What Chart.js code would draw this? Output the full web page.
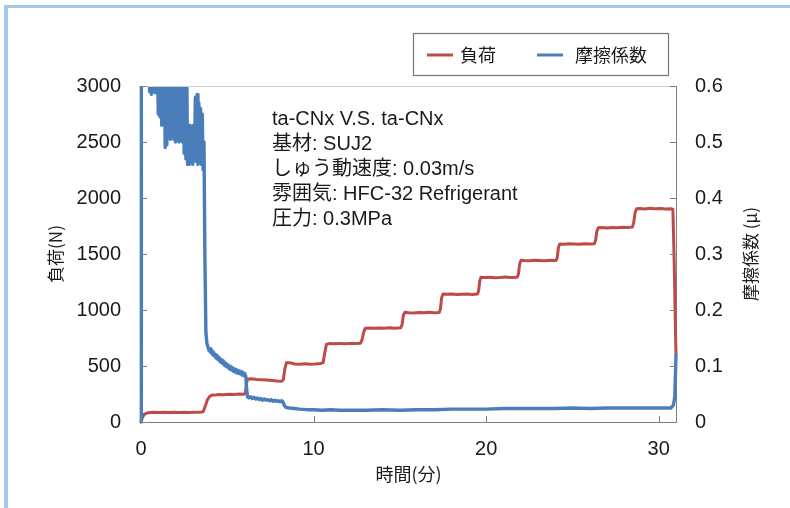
<!DOCTYPE html>
<html lang="ja">
<head>
<meta charset="utf-8">
<title>負荷・摩擦係数</title>
<script src="https://cdn.jsdelivr.net/npm/chart.js@4.4.1/dist/chart.umd.min.js"></script>
<style>
  html, body { margin: 0; padding: 0; background: #fff; }
  #wrap { position: relative; width: 790px; height: 508px; overflow: hidden; }
  #frame { position: absolute; left: 4px; top: 5px; width: 800px; height: 520px;
           border-top: 3px solid #a7c7e7; border-left: 4px solid #a7c7e7; pointer-events: none; }
  canvas { position: absolute; left: 0; top: 0; }
</style>
</head>
<body>
<div id="wrap">
  <canvas id="c" width="790" height="508"></canvas>
  <div id="frame"></div>
</div>
<script>
// 負荷 (N) 時間 (分)
const loadTime = [
  0, 0.08, 0.2, 0.4, 0.7, 1.0, 1.3, 1.6, 1.9, 2.2, 2.5, 2.8, 3.1, 3.4, 3.6, 3.72, 3.85, 4.0, 4.15, 4.3,
  4.5, 4.8, 5.1, 5.4, 5.7, 5.95, 6.05, 6.12, 6.18,
  6.4, 6.7, 7.0, 7.3, 7.6, 7.9, 8.15, 8.25, 8.33, 8.42,
  8.6, 8.9, 9.2, 9.5, 9.8, 10.1, 10.4, 10.55, 10.65, 10.75,
  10.9, 11.2, 11.5, 11.8, 12.1, 12.4, 12.72, 12.8, 12.9, 13.0,
  13.2, 13.5, 13.8, 14.1, 14.4, 14.7, 15.05, 15.13, 15.2, 15.28,
  15.5, 15.8, 16.1, 16.4, 16.7, 17.0, 17.28, 17.35, 17.42, 17.5,
  17.7, 18.0, 18.3, 18.6, 18.9, 19.2, 19.5, 19.56, 19.63, 19.7,
  19.9, 20.2, 20.5, 20.8, 21.1, 21.4, 21.8, 21.87, 21.94, 22.02,
  22.2, 22.5, 22.8, 23.1, 23.4, 23.7, 24.05, 24.12, 24.19, 24.27,
  24.5, 24.8, 25.1, 25.4, 25.7, 26.0, 26.27, 26.34, 26.41, 26.5,
  26.7, 27.0, 27.3, 27.6, 27.9, 28.2, 28.47, 28.55, 28.63, 28.72,
  28.9, 29.2, 29.5, 29.8, 30.1, 30.4, 30.7, 30.82, 30.9, 30.97, 31.0
];
const loadValues = [
  0, 40, 70, 82, 86, 84, 88, 85, 87, 84, 86, 85, 88, 86, 92, 140, 200, 232, 242, 240,
  246, 244, 248, 246, 250, 247, 260, 350, 385,
  386, 380, 378, 374, 370, 366, 364, 380, 470, 528,
  530, 518, 516, 520, 516, 518, 522, 530, 620, 695,
  700, 698, 702, 698, 702, 700, 704, 730, 800, 838,
  840, 836, 840, 838, 842, 838, 842, 870, 950, 980,
  976, 974, 978, 976, 980, 976, 978, 1010, 1110, 1142,
  1140, 1142, 1138, 1140, 1142, 1138, 1142, 1170, 1260, 1292,
  1290, 1292, 1288, 1290, 1294, 1290, 1292, 1320, 1410, 1444,
  1442, 1440, 1444, 1442, 1440, 1444, 1442, 1470, 1560, 1590,
  1588, 1592, 1590, 1588, 1592, 1590, 1592, 1620, 1700, 1734,
  1736, 1732, 1736, 1734, 1738, 1736, 1740, 1780, 1870, 1904,
  1906, 1902, 1908, 1904, 1906, 1902, 1904, 1900, 1400, 800, 600
];

// 摩擦係数 (μ) 時間 (分)
const frictionTime = [
  0, 0.02, 0.15, 0.35,
  0.45, 0.5, 0.55, 0.6, 0.65, 0.7, 0.75, 0.8, 0.85, 0.9, 0.95, 1.0, 1.05, 1.1, 1.15, 1.2, 1.25, 1.3, 1.35, 1.4,
  1.45, 1.5, 1.55, 1.6, 1.65, 1.7, 1.75, 1.8, 1.85, 1.9, 1.95, 2.0, 2.05, 2.1, 2.15, 2.2, 2.25, 2.3, 2.35, 2.4,
  2.45, 2.5, 2.55, 2.6, 2.65, 2.7, 2.75, 2.8, 2.85, 2.9, 2.95, 3.0, 3.05, 3.1, 3.15, 3.2, 3.25, 3.3, 3.35, 3.4,
  3.45, 3.5, 3.55, 3.6, 3.65, 3.7, 3.76, 3.82, 3.9,
  3.95, 4.0, 4.05, 4.1, 4.15, 4.2, 4.25, 4.3, 4.35, 4.4, 4.45, 4.5, 4.55, 4.6, 4.65, 4.7, 4.75, 4.8, 4.85, 4.9,
  4.95, 5.0, 5.05, 5.1, 5.15, 5.2, 5.25, 5.3, 5.35, 5.4, 5.45, 5.5, 5.55, 5.6, 5.65, 5.7, 5.75, 5.8, 5.85, 5.9,
  5.95, 6.0, 6.07,
  6.12, 6.17, 6.25, 6.35, 6.45, 6.55, 6.65, 6.75, 6.85, 6.95, 7.05, 7.15, 7.25, 7.35, 7.45, 7.55, 7.65, 7.75,
  7.85, 7.95, 8.05, 8.15, 8.22, 8.3, 8.4,
  8.6, 8.9, 9.2, 9.6, 10.0, 10.5, 11, 11.5, 12, 13, 14, 15, 16, 17, 18, 19, 20, 21, 22, 23, 24, 25, 26, 27, 28, 29, 30,
  30.7, 30.85, 30.93, 31.0
];
const frictionValues = [
  0, 0.68, 0.66, 0.64,
  0.64, 0.59, 0.64, 0.585, 0.64, 0.59, 0.65, 0.588, 0.64, 0.59, 0.65, 0.55, 0.64, 0.545, 0.65, 0.53, 0.64, 0.545, 0.65, 0.49,
  0.64, 0.495, 0.65, 0.51, 0.64, 0.505, 0.65, 0.51, 0.64, 0.505, 0.65, 0.5, 0.64, 0.505, 0.65, 0.5, 0.64, 0.505, 0.65, 0.5,
  0.64, 0.48, 0.65, 0.47, 0.63, 0.46, 0.52, 0.46, 0.53, 0.47, 0.525, 0.46, 0.53, 0.47, 0.58, 0.465, 0.585, 0.46, 0.57, 0.47,
  0.56, 0.46, 0.55, 0.45, 0.5, 0.3, 0.16, 0.14, 0.132,
  0.127, 0.131, 0.124, 0.128, 0.12, 0.125, 0.118, 0.121, 0.114, 0.119, 0.112, 0.116, 0.109, 0.113, 0.106, 0.11, 0.104, 0.108, 0.101, 0.105,
  0.099, 0.103, 0.097, 0.1, 0.094, 0.099, 0.093, 0.097, 0.091, 0.095, 0.089, 0.094, 0.088, 0.092, 0.087, 0.091, 0.086, 0.09, 0.084, 0.088,
  0.083, 0.087, 0.082,
  0.06, 0.045, 0.043, 0.045, 0.042, 0.044, 0.041, 0.043, 0.04, 0.042, 0.039, 0.041, 0.039, 0.04, 0.038, 0.04, 0.037, 0.039,
  0.037, 0.038, 0.036, 0.038, 0.036, 0.03, 0.026,
  0.025, 0.024, 0.023, 0.022, 0.022, 0.021, 0.022, 0.021, 0.021, 0.021, 0.022, 0.021, 0.022, 0.022, 0.023, 0.023, 0.023, 0.024, 0.024, 0.024, 0.024, 0.025, 0.024, 0.025, 0.025, 0.025, 0.025,
  0.025, 0.03, 0.045, 0.12
];

// 軸の目盛
const timeTicks = [0, 10, 20, 30];
const loadTicks = [0, 500, 1000, 1500, 2000, 2500, 3000];
const loadTickLabels = ['0', '500', '1000', '1500', '2000', '2500', '3000'];
const frictionTicks = [0, 0.1, 0.2, 0.3, 0.4, 0.5, 0.6];
const frictionTickLabels = ['0', '0.1', '0.2', '0.3', '0.4', '0.5', '0.6'];

// 試験条件
const conditionLines = [
  'ta-CNx V.S. ta-CNx',
  '基材: SUJ2',
  'しゅう動速度: 0.03m/s',
  '雰囲気: HFC-32 Refrigerant',
  '圧力: 0.3MPa'
];

const FONT = "'Liberation Sans', Arial, 'Noto Sans CJK JP', sans-serif";
const JFONT = "'Noto Sans CJK JP', 'Liberation Sans', sans-serif";
const RED = '#be4b48';
const BLUE = '#4a7ebb';
const AXIS = '#7f7f7f';

const pairs = (xs, ys) => xs.map((x, i) => ({ x: x, y: ys[i] }));
const fixTicks = values => scale => { scale.ticks = values.map(v => ({ value: v })); };

const decorations = {
  id: 'decorations',
  afterDraw(chart) {
    const { ctx, chartArea: a, scales } = chart;
    ctx.save();

    // top edge of the plot frame
    ctx.strokeStyle = '#cfcfcf';
    ctx.lineWidth = 1;
    ctx.beginPath();
    ctx.moveTo(a.left, Math.round(a.top) + 0.5);
    ctx.lineTo(a.right, Math.round(a.top) + 0.5);
    ctx.stroke();

    // inward tick marks
    ctx.strokeStyle = AXIS;
    ctx.beginPath();
    timeTicks.forEach(v => {
      const px = Math.round(scales.x.getPixelForValue(v)) + 0.5;
      ctx.moveTo(px, a.bottom); ctx.lineTo(px, a.bottom - 6);
    });
    loadTicks.forEach(v => {
      const py = Math.round(scales.y.getPixelForValue(v)) + 0.5;
      ctx.moveTo(a.left, py); ctx.lineTo(a.left + 6, py);
    });
    frictionTicks.forEach(v => {
      const py = Math.round(scales.y1.getPixelForValue(v)) + 0.5;
      ctx.moveTo(a.right, py); ctx.lineTo(a.right - 6, py);
    });
    ctx.stroke();

    // axis titles
    ctx.fillStyle = '#1a1a1a';
    ctx.textAlign = 'center';
    ctx.textBaseline = 'middle';
    ctx.font = '18px ' + JFONT;
    ctx.fillText('時間(分)', (a.left + a.right) / 2, 474);

    ctx.font = '17px ' + JFONT;
    ctx.save();
    ctx.translate(56, (a.top + a.bottom) / 2);
    ctx.rotate(-Math.PI / 2);
    ctx.fillText('負荷(N)', 0, 0);
    ctx.restore();

    ctx.save();
    ctx.translate(751, (a.top + a.bottom) / 2);
    ctx.rotate(-Math.PI / 2);
    ctx.fillText('摩擦係数 (μ)', 0, 0);
    ctx.restore();

    // test conditions
    ctx.textAlign = 'left';
    ctx.font = '20px ' + FONT;
    conditionLines.forEach((line, i) => {
      ctx.fillText(line, 272, 119 + i * 25);
    });

    // legend
    const box = { x: 413.5, y: 33.5, w: 255, h: 42 };
    ctx.strokeStyle = '#777';
    ctx.lineWidth = 1.2;
    ctx.strokeRect(box.x, box.y, box.w, box.h);
    const items = [
      { ds: chart.data.datasets[0], x: 427, tx: 460 },
      { ds: chart.data.datasets[1], x: 537, tx: 575 }
    ];
    ctx.font = '18px ' + JFONT;
    items.forEach(it => {
      ctx.strokeStyle = it.ds.borderColor;
      ctx.lineWidth = 3;
      ctx.beginPath();
      ctx.moveTo(it.x, 55); ctx.lineTo(it.x + 26, 55);
      ctx.stroke();
      ctx.fillStyle = '#1a1a1a';
      ctx.fillText(it.ds.label, it.tx, 55);
    });

    ctx.restore();
  }
};

new Chart(document.getElementById('c'), {
  type: 'line',
  data: {
    datasets: [
      {
        label: '負荷',
        data: pairs(loadTime, loadValues),
        yAxisID: 'y',
        borderColor: RED,
        borderWidth: 3,
        borderJoinStyle: 'round',
        pointRadius: 0,
        tension: 0,
        order: 1,
        clip: { left: 2, top: 0, right: 2, bottom: 2 }
      },
      {
        label: '摩擦係数',
        data: pairs(frictionTime, frictionValues),
        yAxisID: 'y1',
        borderColor: BLUE,
        borderWidth: 3.4,
        borderJoinStyle: 'round',
        borderCapStyle: 'round',
        pointRadius: 0,
        tension: 0,
        order: 0,
        clip: { left: 2, top: 0, right: 2, bottom: 2 }
      }
    ]
  },
  options: {
    responsive: false,
    animation: false,
    events: [],
    layout: { padding: { top: 86, left: 0, right: 0, bottom: 0 } },
    plugins: { legend: { display: false }, tooltip: { enabled: false } },
    scales: {
      x: {
        type: 'linear',
        min: 0,
        max: 31,
        afterBuildTicks: fixTicks(timeTicks),
        afterFit(s) { s.height = 86; },
        grid: { display: false, drawTicks: false },
        border: { display: true, color: AXIS, width: 1 },
        ticks: { padding: 15, color: '#1a1a1a', font: { family: FONT, size: 20 } }
      },
      y: {
        position: 'left',
        min: 0,
        max: 3000,
        afterBuildTicks: fixTicks(loadTicks),
        afterFit(s) { s.width = 141; },
        grid: { display: false, drawTicks: false },
        border: { display: true, color: AXIS, width: 1 },
        ticks: {
          padding: 20,
          color: '#1a1a1a',
          font: { family: FONT, size: 20 },
          callback: (v, i) => loadTickLabels[i]
        }
      },
      y1: {
        position: 'right',
        min: 0,
        max: 0.6,
        afterBuildTicks: fixTicks(frictionTicks),
        afterFit(s) { s.width = 114; },
        grid: { display: false, drawTicks: false },
        border: { display: true, color: AXIS, width: 1 },
        ticks: {
          padding: 19,
          color: '#1a1a1a',
          font: { family: FONT, size: 20 },
          callback: (v, i) => frictionTickLabels[i]
        }
      }
    }
  },
  plugins: [decorations]
});
</script>
</body>
</html>
